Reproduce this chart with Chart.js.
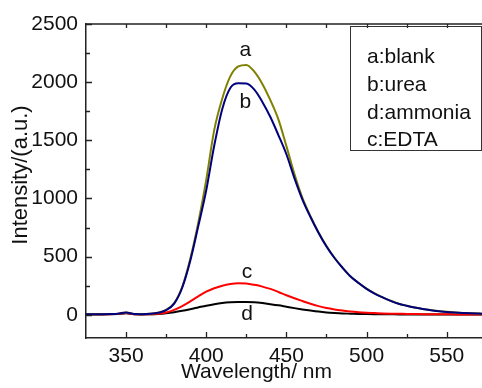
<!DOCTYPE html>
<html>
<head>
<meta charset="utf-8">
<script src="https://cdn.jsdelivr.net/npm/chart.js@4.4.1/dist/chart.umd.min.js"></script>
<style>
  body { margin: 0; background: #fff; }
  #wrap { width: 482px; height: 388px; }
</style>
</head>
<body>
<div id="wrap"><canvas id="spectra" width="482" height="388"></canvas></div>
<script>
// emission spectra (nm / a.u.)
const wavelengths = [325,330,335,340,345,350,355,360,365,370,375,380,385,390,395,400,405,410,415,420,425,430,435,440,445,450,455,460,465,470,475,480,485,490,495,500,505,510,515,520,525,530,535,540,545,550,555,560,565,570,575];
const blank = [5,5,5,6,9,20,6,5,8,18, 42,100,240,480,790,1160,1590,1860,2050,2135, 2148,2090,1985,1845,1680,1450,1210,1005,848,710, 590,490,405,330,274,224,183,150,120,95, 78,63,50,40,32,25,20,16,13,10, 8];
const urea = [5,5,5,6,9,20,6,5,8,17, 40,96,232,462,760,1070,1455,1770,1950,1990, 1988,1935,1830,1700,1545,1380,1175,990,840,705, 587,488,404,329,273,223,182,149,119,94, 77,62,49,39,31,24,19,15,12,10, 8];
const edta = [4,4,4,5,7,14,5,4,5,9, 20,42,75,115,158,198,228,250,264,270, 268,257,242,222,196,168,142,118,94,74, 58,46,36,27,21,17,14,11,9,8, 7,6,5,5,4,4,3,3,3,2, 2];
const ammonia = [3,3,3,4,6,12,4,3,4,7, 13,22,34,48,63,78,91,101,107,110, 110,107,100,91,81,69,57,46,36,27, 20,15,11,9,7,6,5,4,4,3, 3,3,3,2,2,2,2,2,2,2, 2];

const xTicks = [350, 400, 450, 500, 550];
const yTicks = [0, 500, 1000, 1500, 2000, 2500];
const legendLines = ["a:blank", "b:urea", "d:ammonia", "c:EDTA"];
const curveTags = ["a", "b", "c", "d"];
// where each tag sits, in data units (wavelength, intensity at text baseline)
const tagAt = [[424.4, 2225], [424.4, 1777], [425.4, 314], [425.4, -47]];

const FONT = "'Liberation Sans', Arial, sans-serif";

const toPoints = (vals) => vals.map((v, i) => ({ x: wavelengths[i], y: v }));
const midpoints = (arr) => arr.slice(1).map((v, i) => (v + arr[i]) / 2);

const extras = {
  id: "extras",
  afterDraw(chart) {
    const { ctx, chartArea: a, scales: { x, y } } = chart;
    ctx.save();
    ctx.strokeStyle = "#222";
    ctx.lineWidth = 1.3;

    // top frame line
    ctx.beginPath();
    ctx.moveTo(a.left, a.top);
    ctx.lineTo(a.right, a.top);
    ctx.stroke();

    // inward tick marks
    const xMinor = midpoints(xTicks).concat([xTicks[0] - 25, xTicks[xTicks.length - 1] + 25]);
    const yMinor = midpoints(yTicks);
    ctx.beginPath();
    xTicks.forEach((v) => {
      const px = Math.round(x.getPixelForValue(v)) + 0.5;
      ctx.moveTo(px, a.bottom); ctx.lineTo(px, a.bottom - 6);
      ctx.moveTo(px, a.top); ctx.lineTo(px, a.top + 4);
    });
    xMinor.forEach((v) => {
      if (v <= x.min || v >= x.max) return;
      const px = Math.round(x.getPixelForValue(v)) + 0.5;
      ctx.moveTo(px, a.bottom); ctx.lineTo(px, a.bottom - 4);
      ctx.moveTo(px, a.top); ctx.lineTo(px, a.top + 4);
    });
    yTicks.forEach((v) => {
      const py = Math.round(y.getPixelForValue(v)) + 0.5;
      ctx.moveTo(a.left, py); ctx.lineTo(a.left + 6, py);
    });
    yMinor.forEach((v) => {
      const py = Math.round(y.getPixelForValue(v)) + 0.5;
      ctx.moveTo(a.left, py); ctx.lineTo(a.left + 4, py);
    });
    ctx.stroke();

    // curve tags
    ctx.fillStyle = "#111";
    ctx.font = "21px " + FONT;
    ctx.textAlign = "center";
    ctx.textBaseline = "alphabetic";
    curveTags.forEach((t, i) => {
      ctx.fillText(t, x.getPixelForValue(tagAt[i][0]), y.getPixelForValue(tagAt[i][1]));
    });

    // legend box
    ctx.lineWidth = 1;
    ctx.strokeStyle = "#333";
    ctx.strokeRect(350.5, 26.5, 131, 124);
    ctx.textAlign = "left";
    legendLines.forEach((t, i) => {
      ctx.fillText(t, 367, 63 + i * 27.8);
    });

    // axis titles
    ctx.textAlign = "center";
    ctx.fillText("Wavelength/ nm", 256.5, 378);
    ctx.translate(27, 175);
    ctx.rotate(-Math.PI / 2);
    ctx.font = "22px " + FONT;
    ctx.fillText("Intensity/(a.u.)", 0, 0);
    ctx.restore();
  }
};

const tickFont = { family: FONT, size: 21 };

new Chart(document.getElementById("spectra"), {
  type: "line",
  data: {
    datasets: [
      { label: "b", data: toPoints(urea), borderColor: "#00007f", order: 0 },
      { label: "a", data: toPoints(blank), borderColor: "#808000", order: 1 },
      { label: "c", data: toPoints(edta), borderColor: "#ff0000", order: 2 },
      { label: "d", data: toPoints(ammonia), borderColor: "#000000", order: 3 }
    ]
  },
  options: {
    responsive: false,
    animation: false,
    layout: { padding: { top: 24, right: 0, left: 0, bottom: 0 } },
    plugins: { legend: { display: false }, tooltip: { enabled: false } },
    elements: {
      point: { radius: 0 },
      line: { borderWidth: 2, cubicInterpolationMode: "monotone" }
    },
    scales: {
      x: {
        type: "linear",
        min: 325,
        max: 572,
        afterBuildTicks: (s) => { s.ticks = xTicks.map((v) => ({ value: v })); },
        afterFit: (s) => { s.height = 50; },
        grid: { display: false, drawTicks: false },
        border: { display: true, color: "#222", width: 1.5 },
        ticks: { font: tickFont, color: "#111", padding: 6, maxRotation: 0, autoSkip: false,
                 callback: (v) => String(v) }
      },
      y: {
        min: -200,
        max: 2500,
        afterBuildTicks: (s) => { s.ticks = yTicks.map((v) => ({ value: v })); },
        afterFit: (s) => { s.width = 86; },
        grid: { display: false, drawTicks: false },
        border: { display: true, color: "#222", width: 1.5 },
        ticks: { font: tickFont, color: "#111", padding: 8, callback: (v) => String(v) }
      }
    }
  },
  plugins: [extras]
});
</script>
</body>
</html>
